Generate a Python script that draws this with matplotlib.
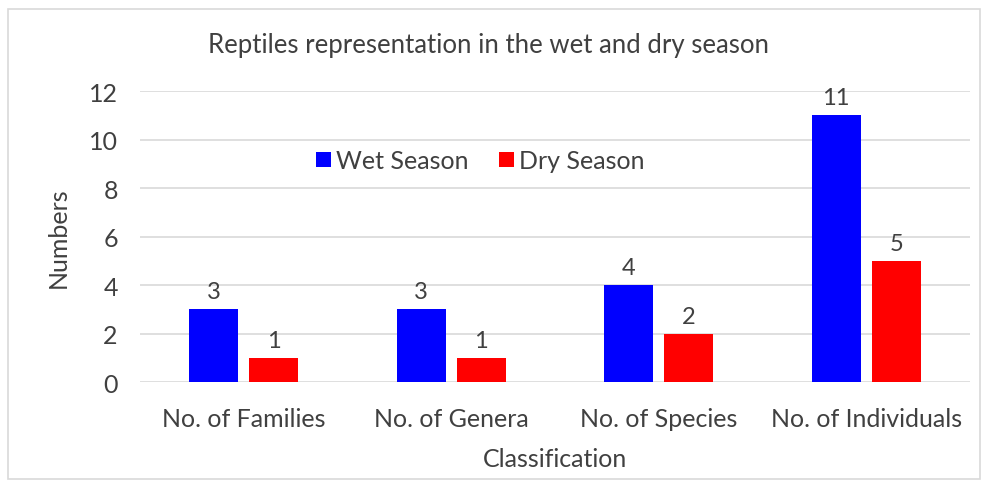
import matplotlib
matplotlib.use("Agg")
import matplotlib.pyplot as plt
import numpy as np
from matplotlib.patches import Rectangle

categories = ["No. of Families", "No. of Genera", "No. of Species", "No. of Individuals"]
wet = [3, 3, 4, 11]
dry = [1, 1, 2, 5]
yticks = [0, 2, 4, 6, 8, 10, 12]

plt.rcParams['font.family'] = ['Lato', 'DejaVu Sans']
tc = '#404040'

fig = plt.figure(figsize=(9.82, 4.85), dpi=100)
ax = fig.add_axes([0.1426, 0.2103, 0.8452, 0.6])

x = np.arange(len(categories))
w = 0.236
off = 0.145
b1 = ax.bar(x - off, wet, w, color='#0000ff', label='Wet Season', zorder=3)
b2 = ax.bar(x + off, dry, w, color='#ff0000', label='Dry Season', zorder=3)
for bars, vals in ((b1, wet), (b2, dry)):
    for r, v in zip(bars, vals):
        ax.annotate(str(v), (r.get_x() + r.get_width() / 2, v), xytext=(0, 5),
                    textcoords='offset points', ha='center', va='bottom',
                    fontsize=17, color=tc)

ax.set_xlim(-0.5, 3.5)
ax.set_ylim(0, 12)
ax.set_yticks(yticks)
ax.set_xticks(x)
ax.set_xticklabels(categories)
ax.tick_params(axis='both', length=0, labelsize=18, labelcolor=tc)
ax.tick_params(axis='y', pad=16)
ax.tick_params(axis='x', pad=18)
ax.grid(axis='y', color='#d9d9d9', linewidth=1.2, zorder=0)
for s in ax.spines.values():
    s.set_visible(False)

ax.set_ylabel('Numbers', fontsize=18, color=tc, labelpad=14)
ax.set_xlabel('Classification', fontsize=18, color=tc, labelpad=12)
fig.text(0.497, 0.907, 'Reptiles representation in the wet and dry season',
         ha='center', va='center', fontsize=18.5, color=tc)

ax.legend(loc='center', bbox_to_anchor=(0.41, 0.76), ncol=2, frameon=False,
          fontsize=18, labelcolor=tc, handlelength=0.6, handleheight=0.6,
          handletextpad=0.2, columnspacing=1.2)

fig.patches.append(Rectangle((0.008, 0.01), 0.99, 0.97, transform=fig.transFigure,
                             fill=False, edgecolor='#d9d9d9', linewidth=1.2))

fig.savefig('out.png', dpi=100)
